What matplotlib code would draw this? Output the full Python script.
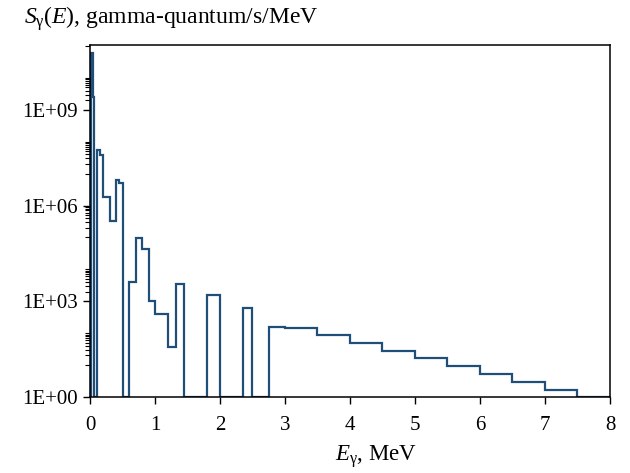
import matplotlib
matplotlib.use('Agg')
import matplotlib.pyplot as plt
import numpy as np

plt.rcParams['font.family'] = 'Liberation Serif'
plt.rcParams['mathtext.fontset'] = 'custom'
plt.rcParams['mathtext.rm'] = 'Liberation Serif'
plt.rcParams['mathtext.it'] = 'Liberation Serif:italic'

# group boundaries, MeV
energy_edges = [0, 0.01, 0.045, 0.055, 0.065, 0.1, 0.15, 0.2, 0.3, 0.4, 0.45, 0.5,
                0.6, 0.7, 0.8, 0.9, 1.0, 1.2, 1.33, 1.45, 1.8, 2.0, 2.35, 2.5, 2.75,
                3.0, 3.5, 4.0, 4.5, 5.0, 5.5, 6.0, 6.5, 7.0, 7.5, 8.0]
# gamma source per group, gamma-quantum/s/MeV
source = [0, 6.0e10, 2.5e9, 3.3e8, 0, 5.5e7, 3.8e7, 1.9e6, 3.2e5, 6.5e6, 5.1e6,
          0, 3.9e3, 9.8e4, 4.4e4, 1.0e3, 390, 38, 3.5e3, 0, 1.6e3, 0, 630, 0,
          155, 145, 85, 49, 28, 16.6, 9.5, 5.4, 3.0, 1.7, 0]

x_ticks = [0, 1, 2, 3, 4, 5, 6, 7, 8]
y_ticks = [1e0, 1e3, 1e6, 1e9]
y_labels = ['1E+00', '1E+03', '1E+06', '1E+09']

fig = plt.figure(figsize=(6.3, 4.73), dpi=100)
ax = fig.add_axes([90/630, 1-397/473, 520/630, 352/473])

# zeros sit on the axis floor
s = np.clip(np.array(source, dtype=float), 1, None)
ax.stairs(s, energy_edges, baseline=None, color='#1F4E79', lw=1.6)

ax.set_yscale('log')
ax.set_xlim(0, 8)
ax.set_ylim(1, 10**11.03)
ax.set_xticks(x_ticks)
ax.set_xticklabels([str(t) for t in x_ticks])
ax.set_yticks(y_ticks)
ax.set_yticklabels(y_labels)

minor = [10.0**n for n in range(1, 12) if n % 3 != 0]
for m in [1, 3, 5, 7, 9]:
    minor += [k * 10.0**m for k in range(2, 10)]
ax.set_yticks(sorted(minor), minor=True)
ax.set_yticklabels([], minor=True)

ax.tick_params(axis='both', which='major', direction='out', length=5, width=1,
               labelsize=15, color='black')
ax.tick_params(axis='y', which='major', pad=3.5)
ax.tick_params(axis='x', which='major', pad=8.5)
ax.tick_params(axis='y', which='minor', direction='out', length=3.5, width=0.8)
for sp in ax.spines.values():
    sp.set_linewidth(1.1)
    sp.set_color('black')

fig.text(24/630, 1-24/473, r'$S_{\mathrm{\gamma}}(E)$, gamma-quantum/s/MeV',
         fontsize=17, ha='left', va='baseline')
fig.text(376/630, 1-461/473, r'$E_{\mathrm{\gamma}}$, MeV',
         fontsize=16.5, ha='center', va='baseline')

fig.savefig('out.png', dpi=100)
